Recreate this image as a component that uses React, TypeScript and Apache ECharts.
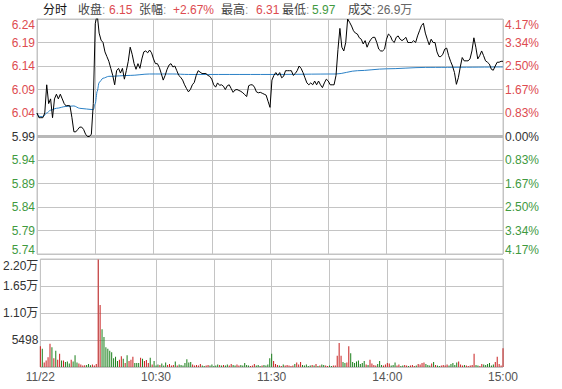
import { useEffect, useRef } from 'react';
import * as echarts from 'echarts';

// ---------- data ----------
const PRE_CLOSE = 5.99;

const timeTickMinutes = [0, 60, 120, 180, 240];
const timeTickLabels = ['11/22', '10:30', '11:30', '14:00', '15:00'];

const headerTitle = '分时';
const headerKeys = ['收盘', '张幅', '最高', '最低', '成交'];
const headerValues = ['6.15', '+2.67%', '6.31', '5.97', '26.9万'];
const headerTones = ['up', 'up', 'up', 'down', 'plain'];

// price in cents offset ticks: -25..25 step 5 (5.74 .. 6.24)
const priceTickStep = 5;
const priceTickMax = 25;
// volume ticks
const volumeTickStep = 5498;
const volumeTickMax = 21992;

// per-minute last price, 09:30 .. 11:30
const pricesAM = [
  6.04, 6.03, 6.03, 6.03, 6.04, 6.10, 6.06, 6.07, 6.03, 6.07,
  6.08, 6.07, 6.08, 6.07, 6.06, 6.055, 6.056, 6.055, 6.03, 6.00,
  6.00, 6.005, 6.01, 6.01, 6.005, 5.995, 5.99, 5.99, 5.995, 6.06,
  6.23, 6.25, 6.21, 6.195, 6.19, 6.17, 6.16, 6.15, 6.135, 6.12,
  6.10, 6.13, 6.135, 6.125, 6.135, 6.112, 6.13, 6.15, 6.18, 6.165,
  6.145, 6.133, 6.145, 6.135, 6.155, 6.17, 6.172, 6.168, 6.174, 6.168,
  6.155, 6.145, 6.145, 6.137, 6.124, 6.11, 6.12, 6.133, 6.142, 6.145,
  6.138, 6.14, 6.13, 6.12, 6.116, 6.11, 6.10, 6.092, 6.085, 6.09,
  6.10, 6.105, 6.12, 6.13, 6.127, 6.124, 6.124, 6.124, 6.12, 6.118,
  6.112, 6.10, 6.095, 6.104, 6.099, 6.10, 6.097, 6.09, 6.098, 6.10,
  6.092, 6.084, 6.089, 6.09, 6.088, 6.086, 6.083, 6.079, 6.075, 6.098,
  6.10, 6.10, 6.095, 6.085, 6.083, 6.084, 6.082, 6.08, 6.078, 6.065,
  6.052,
];
// per-minute last price, 13:01 .. 15:00
const pricesPM = [
  6.11, 6.12, 6.126, 6.12, 6.126, 6.115, 6.118, 6.13, 6.13,
  6.13, 6.13, 6.12, 6.124, 6.13, 6.14, 6.135, 6.126, 6.115, 6.104,
  6.10, 6.104, 6.10, 6.108, 6.10, 6.108, 6.10, 6.094, 6.104, 6.112,
  6.108, 6.10, 6.10, 6.10, 6.12, 6.175, 6.22, 6.18, 6.172, 6.19,
  6.24, 6.233, 6.225, 6.215, 6.21, 6.208, 6.20, 6.197, 6.187, 6.194,
  6.18, 6.19, 6.197, 6.201, 6.201, 6.19, 6.176, 6.172, 6.172, 6.176,
  6.197, 6.208, 6.204, 6.194, 6.19, 6.201, 6.204, 6.197, 6.194, 6.197,
  6.201, 6.19, 6.19, 6.19, 6.194, 6.19, 6.204, 6.215, 6.226, 6.231,
  6.21, 6.197, 6.185, 6.197, 6.19, 6.19, 6.17, 6.16, 6.16, 6.165,
  6.176, 6.178, 6.162, 6.15, 6.14, 6.126, 6.101, 6.115, 6.138, 6.158,
  6.151, 6.151, 6.151, 6.155, 6.172, 6.20, 6.18, 6.155, 6.162, 6.172,
  6.162, 6.151, 6.148, 6.144, 6.133, 6.131, 6.14, 6.148, 6.148, 6.15,
  6.15,
];

// average price line, read at [minute index, price]
const avgPoints: [number, number][] = [
  [0, 6.04], [1, 6.033], [3, 6.032], [5, 6.04], [7, 6.046], [10, 6.05],
  [15, 6.054], [19, 6.055], [22, 6.05], [29, 6.047], [30, 6.06], [31, 6.086],
  [32, 6.105], [34, 6.114], [37, 6.118], [48, 6.12], [58, 6.123], [70, 6.123],
  [78, 6.122], [120, 6.122], [154, 6.123], [165, 6.13], [180, 6.134],
  [200, 6.137], [240, 6.138],
];

// per-minute volume
const volumesAM = [
  4200, 3700, 900, 1300, 2000, 4750, 4000, 1800, 3300, 1500,
  2700, 1300, 1300, 1000, 1100, 700, 1500, 1100, 2400, 900,
  700, 500, 300, 350, 400, 600, 350, 500, 300, 600,
  21900, 12600, 7700, 6100, 4000, 3700, 3300, 3000, 1800, 2100,
  1200, 1500, 2200, 1700, 800, 2400, 1200, 1500, 2100, 800,
  800, 800, 1900, 1700, 1200, 1400, 800, 1900, 500, 1200,
  300, 500, 400, 700, 300, 900, 400, 600, 300, 400,
  1100, 300, 500, 400, 300, 800, 1600, 900, 1000, 500,
  300, 400, 300, 600, 300, 200, 300, 400, 300, 500,
  200, 300, 500, 400, 300, 400, 300, 500, 300, 600,
  400, 300, 500, 300, 400, 300, 800, 400, 300, 200,
  300, 600, 300, 400, 200, 300, 400, 300, 500, 1800,
  2700,
];
const volumesPM = [
  1200, 600, 400, 300, 200, 500, 300, 400, 300, 200,
  300, 600, 900, 500, 1000, 400, 300, 500, 200, 300,
  400, 300, 600, 200, 300, 500, 400, 300, 200, 300,
  200, 300, 300, 2300, 4900, 2300, 1000, 800, 900, 4200,
  2800, 1000, 800, 1100, 1300, 600, 800, 1200, 500, 400,
  1500, 700, 400, 300, 600, 1200, 400, 300, 500, 800,
  700, 300, 400, 900, 300, 500, 200, 300, 400, 300,
  200, 300, 400, 200, 300, 600, 500, 800, 900, 600,
  400, 300, 700, 1000, 400, 300, 200, 300, 400, 300,
  500, 300, 600, 800, 400, 900, 1100, 500, 300, 400,
  300, 200, 300, 400, 2700, 400, 300, 200, 600, 500,
  400, 600, 800, 300, 500, 1000, 2100, 600, 300, 3800,
];

// ---------- styles ----------
const RED = '#dd4b50';
const GREEN = '#3f9a3f';
const BAR_RED = '#c81e1e';
const BAR_GREEN = '#1a7f1a';
const GRID_C = '#c4c4c4';
const FONT = 'Arial, "Liberation Sans", "Noto Sans CJK SC", sans-serif';

export default function App() {
  const ref = useRef<HTMLDivElement>(null);

  useEffect(() => {
    if (!ref.current) return;
    const chart = echarts.init(ref.current, null, { renderer: 'svg' });

    const prices = [...pricesAM, ...pricesPM];
    const volumes = [...volumesAM, ...volumesPM];
    const toOffset = (p: number) => +((p - PRE_CLOSE) * 100).toFixed(4);
    const priceData = prices.map((p, i) => [i, toOffset(p)]);
    const avgData = avgPoints.map(([m, p]) => [m, toOffset(p)]);
    const volData = volumes.map((v, i) => {
      const up = i === 0 ? prices[0] >= PRE_CLOSE : prices[i] >= prices[i - 1];
      return { value: [i, v], itemStyle: { color: up ? BAR_RED : BAR_GREEN } };
    });

    const toneColor = (t: string) => (t === 'up' ? RED : t === 'down' ? GREEN : '#666');
    const keyX = [78, 139, 221, 282, 348];
    const valX = [109, 173, 256, 312, 377];
    const graphic: any[] = [
      { type: 'text', x: 43, y: 10, style: { text: headerTitle, fill: '#111', font: `12px ${FONT}`, verticalAlign: 'middle' } },
    ];
    headerKeys.forEach((k, i) => {
      graphic.push({ type: 'text', x: keyX[i], y: 10, style: { text: k, fill: '#444', font: `12px ${FONT}`, verticalAlign: 'middle' } });
      graphic.push({ type: 'text', x: keyX[i] + 24, y: 10, style: { text: ':', fill: '#999', font: `12px ${FONT}`, verticalAlign: 'middle' } });
      graphic.push({ type: 'text', x: valX[i], y: 10, style: { text: headerValues[i], fill: toneColor(headerTones[i]), font: `12px ${FONT}`, verticalAlign: 'middle' } });
    });

    const signColor = (v: any) => {
      const n = Number(v);
      return n > 0 ? RED : n < 0 ? GREEN : '#333';
    };
    const edgeRich = {
      topR: { color: RED, padding: [12, 0, 0, 0], fontSize: 12, fontFamily: FONT },
      botG: { color: GREEN, padding: [0, 0, 8, 0], fontSize: 12, fontFamily: FONT },
      topK: { color: '#333', padding: [14, 0, 0, 0], fontSize: 12, fontFamily: FONT },
    };
    const wrapEdge = (v: number, s: string) =>
      v === priceTickMax ? `{topR|${s}}` : v === -priceTickMax ? `{botG|${s}}` : s;

    const option: any = {
      animation: false,
      textStyle: { fontFamily: FONT },
      graphic,
      grid: [
        { left: 37, right: 59, top: 19, height: 235, show: true, borderColor: GRID_C, borderWidth: 1 },
        { left: 37, right: 59, top: 259, height: 108, show: true, borderColor: GRID_C, borderWidth: 1 },
      ],
      xAxis: [
        {
          gridIndex: 0, type: 'value', min: 0, max: 240, interval: 30,
          axisLine: { show: false }, axisTick: { show: false }, axisLabel: { show: false },
          splitLine: { show: true, lineStyle: { color: GRID_C, width: 1 } },
        },
        {
          gridIndex: 1, type: 'value', min: 0, max: 240, interval: 30,
          axisLine: { show: false }, axisTick: { show: false },
          axisLabel: {
            show: true, color: '#555', fontSize: 12, margin: 4, fontFamily: FONT,
            formatter: (v: number) => {
              const i = timeTickMinutes.indexOf(v);
              return i >= 0 ? timeTickLabels[i] : '';
            },
          },
          splitLine: { show: true, lineStyle: { color: GRID_C, width: 1 } },
        },
      ],
      yAxis: [
        {
          gridIndex: 0, type: 'value', min: -priceTickMax, max: priceTickMax, interval: priceTickStep,
          position: 'left', axisLine: { show: false }, axisTick: { show: false },
          splitLine: { show: true, lineStyle: { color: GRID_C, width: 1 } },
          axisLabel: {
            margin: 2, fontSize: 12, fontFamily: FONT, color: signColor, rich: edgeRich,
            formatter: (v: number) => wrapEdge(v, (PRE_CLOSE + v / 100).toFixed(2)),
          },
        },
        {
          gridIndex: 0, type: 'value', min: -priceTickMax, max: priceTickMax, interval: priceTickStep,
          position: 'right', axisLine: { show: false }, axisTick: { show: false },
          splitLine: { show: false },
          axisLabel: {
            margin: 2, fontSize: 12, fontFamily: FONT, color: signColor, rich: edgeRich,
            formatter: (v: number) => wrapEdge(v, (Math.abs(v) / PRE_CLOSE).toFixed(2) + '%'),
          },
        },
        {
          gridIndex: 1, type: 'value', min: 0, max: volumeTickMax, interval: volumeTickStep,
          position: 'left', axisLine: { show: false }, axisTick: { show: false },
          splitLine: { show: true, lineStyle: { color: GRID_C, width: 1 } },
          axisLabel: {
            margin: 2, fontSize: 12, fontFamily: FONT, color: '#333', rich: edgeRich,
            formatter: (v: number) => {
              if (v === 0) return '';
              const s = v < 10000 ? String(v) : `${(v / 10000).toFixed(2)}万`;
              return v === volumeTickMax ? `{topK|${s}}` : s;
            },
          },
        },
      ],
      series: [
        {
          type: 'line', xAxisIndex: 0, yAxisIndex: 0, data: avgData,
          showSymbol: false, smooth: 0.3, smoothMonotone: 'x',
          lineStyle: { color: '#2a80c6', width: 1 }, z: 3, silent: true,
        },
        {
          type: 'line', xAxisIndex: 0, yAxisIndex: 0, data: priceData,
          showSymbol: false, lineStyle: { color: '#000', width: 1 }, z: 4, silent: true,
          markLine: {
            silent: true, symbol: ['none', 'none'], label: { show: false },
            lineStyle: { color: '#b8b8b8', width: 3, type: 'solid' },
            data: [{ yAxis: 0 }], z: 2,
          },
        },
        {
          type: 'bar', xAxisIndex: 1, yAxisIndex: 2, data: volData,
          barWidth: 1, silent: true,
        },
      ],
    };

    chart.setOption(option);
    return () => chart.dispose();
  }, []);

  return (
    <div
      ref={ref}
      style={{ position: 'fixed', left: 0, top: 0, width: 562, height: 389, background: '#fff' }}
    />
  );
}
